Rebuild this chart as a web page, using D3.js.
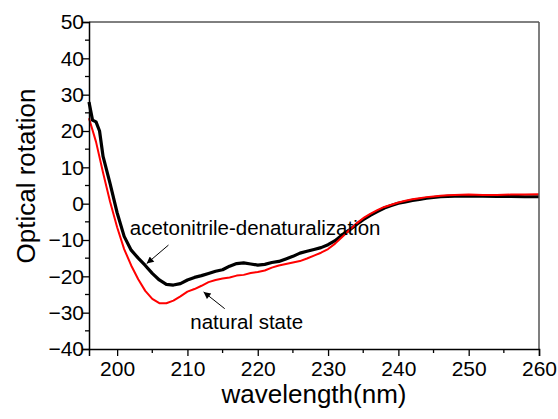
<!DOCTYPE html>
<html>
<head>
<meta charset="utf-8">
<script src="https://cdn.jsdelivr.net/npm/d3@7"></script>
<style>
  html, body { margin: 0; padding: 0; background: #fff; }
  svg { display: block; font-family: Arial, 'Liberation Sans', sans-serif; }
</style>
</head>
<body>
<svg class="chart" width="558" height="419"></svg>
<script>
// wavelength (nm) and optical rotation
const wlDenat = [196, 196.5, 197, 197.5, 198, 199, 200, 201, 202, 203, 204, 205, 206, 207, 208, 209, 210, 211, 212, 213, 214, 215, 216, 217, 218, 219, 220, 221, 222, 223, 224, 225, 226, 227, 228, 229, 230, 231, 232, 233, 234, 235, 236, 237, 238, 239, 240, 241, 242, 243, 244, 245, 246, 247, 248, 250, 252, 254, 256, 258, 260]
const rotDenat = [28, 23, 22.5, 20, 13, 5.5, -2.5, -9, -12.8, -15, -17, -19.2, -21, -22.2, -22.4, -22, -21, -20.3, -19.8, -19.2, -18.6, -18.2, -17.2, -16.5, -16.3, -16.6, -16.9, -16.7, -16.2, -15.9, -15.2, -14.5, -13.6, -13.1, -12.6, -12.1, -11.3, -10.2, -8.6, -7.3, -5.8, -4.4, -3.2, -2.2, -1.2, -0.5, 0.1, 0.5, 0.9, 1.2, 1.5, 1.7, 1.9, 2.0, 2.1, 2.1, 2.1, 2.0, 2.0, 1.9, 1.9]

const wlNatural = [196, 197, 198, 199, 200, 201, 202, 203, 204, 205, 206, 207, 208, 209, 210, 211, 212, 213, 214, 215, 216, 217, 218, 219, 220, 221, 222, 223, 224, 225, 226, 227, 228, 229, 230, 231, 232, 233, 234, 235, 236, 237, 238, 239, 240, 241, 242, 243, 244, 245, 246, 247, 248, 250, 252, 254, 256, 258, 260]
const rotNatural = [23.5, 17, 8.5, 0.5, -6.5, -12.5, -17, -20.8, -24, -26.2, -27.4, -27.4, -26.7, -25.5, -24.2, -23.5, -22.6, -21.6, -21, -20.6, -20.3, -19.8, -19.6, -19.1, -18.8, -18.4, -17.6, -17, -16.6, -16.2, -15.8, -15.1, -14.3, -13.5, -12.5, -11, -9.2, -7.3, -5.5, -4, -2.8, -1.8, -0.9, -0.3, 0.3, 0.8, 1.2, 1.5, 1.8, 2.0, 2.2, 2.3, 2.4, 2.5, 2.4, 2.4, 2.5, 2.5, 2.6]

const xTicks = [200, 210, 220, 230, 240, 250, 260]
const yTicks = [-40, -30, -20, -10, 0, 10, 20, 30, 40, 50]

// annotations in data units: label start, arrow tail -> head
const labels = ['acetonitrile-denaturalization', 'natural state']
const labelPos = [[201.8, -8.5], [210.4, -34.4]]
const arrows = [[207.3, -11.4, 204.2, -16.5], [215.3, -28.9, 212.3, -24.3]]

const padLeft = 89
const padRight = 539
const padTop = 22
const padBottom = 349

const svg = d3.select('.chart')

const xScale = d3.scaleLinear().domain([196, 260]).range([padLeft, padRight])
const yScale = d3.scaleLinear().domain([-40, 50]).range([padBottom, padTop])

const createAxes = () => {
  const xMinor = d3.range(200, 261, 5).filter(v => v % 10 !== 0)
  const yMinor = d3.range(-35, 50, 10)

  // frame top and right
  svg.append('line')
    .attr('x1', padLeft).attr('x2', padRight).attr('y1', padTop).attr('y2', padTop)
    .attr('stroke', '#000').attr('stroke-width', 1)
  svg.append('line')
    .attr('x1', padRight).attr('x2', padRight).attr('y1', padTop).attr('y2', padBottom)
    .attr('stroke', '#555').attr('stroke-width', 1.5)

  const xAxis = svg.append('g')
    .attr('transform', 'translate(0,' + padBottom + ')')
    .call(d3.axisBottom(xScale).tickValues(xTicks).tickSizeOuter(0).tickSize(7).tickPadding(5))
  xAxis.append('g').selectAll('line')
    .data(xMinor).enter().append('line')
    .attr('x1', d => xScale(d)).attr('x2', d => xScale(d))
    .attr('y1', 0).attr('y2', 4)
    .attr('stroke', '#000').attr('stroke-width', 1.3)

  const yAxis = svg.append('g')
    .attr('transform', 'translate(' + padLeft + ',0)')
    .call(d3.axisLeft(yScale).tickValues(yTicks).tickSizeOuter(0).tickSize(7).tickPadding(-2))
  yAxis.append('g').selectAll('line')
    .data(yMinor).enter().append('line')
    .attr('y1', d => yScale(d)).attr('y2', d => yScale(d))
    .attr('x1', 0).attr('x2', -4)
    .attr('stroke', '#000').attr('stroke-width', 1.3)

  svg.selectAll('.domain').attr('stroke', '#000').attr('stroke-width', 1.5)
  svg.selectAll('.tick line').attr('stroke', '#000').attr('stroke-width', 1.3)
  svg.selectAll('.tick text')
    .attr('fill', '#000')
    .style('font-family', "Arial, 'Liberation Sans', sans-serif")
    .style('font-size', '21px')
}

const createLabels = () => {
  svg.append('text')
    .attr('x', (padLeft + padRight) / 2)
    .attr('y', 403)
    .attr('text-anchor', 'middle')
    .style('font-size', '26px')
    .text('wavelength(nm)')

  svg.append('text')
    .attr('transform', 'rotate(-90)')
    .attr('x', -176)
    .attr('y', 35)
    .attr('text-anchor', 'middle')
    .style('font-size', '26px')
    .text('Optical rotation')
}

const createLines = () => {
  const line = d3.line()
    .x(d => xScale(d[0]))
    .y(d => yScale(d[1]))
    .curve(d3.curveLinear)

  svg.append('path')
    .datum(wlDenat.map((w, i) => [w, rotDenat[i]]))
    .attr('d', line)
    .attr('fill', 'none')
    .attr('stroke', '#000')
    .attr('stroke-width', 3.2)
    .attr('stroke-linejoin', 'round')

  svg.append('path')
    .datum(wlNatural.map((w, i) => [w, rotNatural[i]]))
    .attr('d', line)
    .attr('fill', 'none')
    .attr('stroke', '#ff0000')
    .attr('stroke-width', 2)
    .attr('stroke-linejoin', 'round')
}

const createAnnotations = () => {
  svg.append('defs').append('marker')
    .attr('id', 'head')
    .attr('viewBox', '0 0 10 10')
    .attr('refX', 10).attr('refY', 5)
    .attr('markerWidth', 9).attr('markerHeight', 7)
    .attr('markerUnits', 'userSpaceOnUse')
    .attr('orient', 'auto')
    .append('path')
    .attr('d', 'M0,0 L10,5 L0,10 Z')
    .attr('fill', '#000')

  svg.selectAll('.arrow')
    .data(arrows).enter().append('line')
    .attr('class', 'arrow')
    .attr('x1', d => xScale(d[0])).attr('y1', d => yScale(d[1]))
    .attr('x2', d => xScale(d[2])).attr('y2', d => yScale(d[3]))
    .attr('stroke', '#000').attr('stroke-width', 1)
    .attr('marker-end', 'url(#head)')

  svg.selectAll('.note')
    .data(labels).enter().append('text')
    .attr('class', 'note')
    .attr('x', (d, i) => xScale(labelPos[i][0]))
    .attr('y', (d, i) => yScale(labelPos[i][1]))
    .style('font-size', '20.5px')
    .text(d => d)
}

createLines()
createAxes()
createLabels()
createAnnotations()
</script>
</body>
</html>
